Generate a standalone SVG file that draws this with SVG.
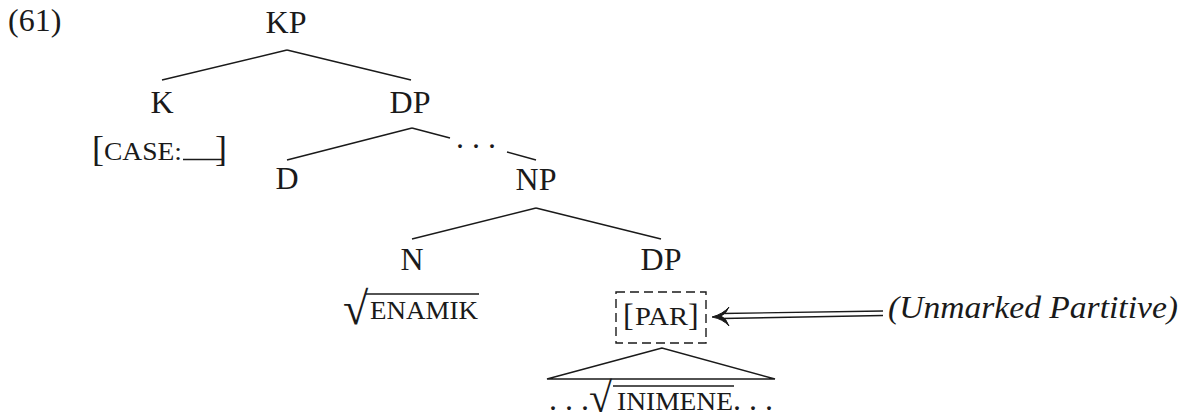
<svg xmlns="http://www.w3.org/2000/svg" width="1188" height="416" viewBox="0 0 1188 416">
<style>
  text { font-family: "Liberation Serif", "Times New Roman", serif; fill: #1a1a1a; }
  .lab { font-size: 32px; text-anchor: middle; }
  .sc { font-size: 25px; }
  .big { font-size: 36px; }
  .br { font-size: 32px; }
  .rad { font-size: 46px; }
  .it { font-size: 32px; font-style: italic; }
  .edge { stroke: #1a1a1a; stroke-width: 1.4; fill: none; }
  .dash { stroke: #1a1a1a; stroke-width: 1.4; fill: none; stroke-dasharray: 9 5; }
</style>
<rect width="1188" height="416" fill="#ffffff"/>

<text x="8" y="31" style="font-size:32px">(61)</text>

<g id="connectors">
  <line class="edge" x1="287" y1="50" x2="162" y2="80"/>
  <line class="edge" x1="287" y1="50" x2="411" y2="80"/>
  <line class="edge" x1="412" y1="128" x2="287" y2="160"/>
  <line class="edge" x1="412" y1="128" x2="450" y2="138"/>
  <line class="edge" x1="507" y1="152" x2="536" y2="160"/>
  <line class="edge" x1="536" y1="208" x2="412" y2="239"/>
  <line class="edge" x1="536" y1="208" x2="661" y2="239"/>
  <polygon class="edge" points="662,348 547,379 775,379"/>
  <line class="edge" x1="722" y1="313.5" x2="883" y2="311"/>
  <line class="edge" x1="722" y1="318.5" x2="883" y2="315.5"/>
  <path d="M729,307 Q723,314 712,317 Q723,319 729,326 Q726,318 721,316 Q726,314 729,307 Z" fill="#1a1a1a" stroke="#1a1a1a" stroke-width="1"/>
</g>
<text x="476" y="148" class="lab">. . .</text>

<g id="KP"><text x="286" y="33" class="lab">KP</text></g>
<g id="K"><text x="162" y="113" class="lab">K</text></g>
<g id="K-feature">
  <text x="92" y="161" class="big">[</text>
  <text x="104" y="160" class="sc" textLength="78" lengthAdjust="spacingAndGlyphs">CASE:</text>
  <line class="edge" x1="183" y1="159.5" x2="222" y2="159.5" stroke-width="2"/>
  <text x="215" y="161" class="big">]</text>
</g>
<g id="DP1"><text x="410" y="113" class="lab">DP</text></g>
<g id="D"><text x="287" y="189" class="lab">D</text></g>
<g id="NP"><text x="536" y="190" class="lab">NP</text></g>
<g id="N"><text x="412" y="270" class="lab">N</text></g>
<g id="N-root">
  <text x="343" y="324" class="rad">√</text>
  <line class="edge" x1="366" y1="294" x2="479" y2="294"/>
  <text x="370" y="319" class="sc" textLength="108" lengthAdjust="spacingAndGlyphs">ENAMIK</text>
</g>
<g id="DP2"><text x="661" y="270" class="lab">DP</text></g>
<g id="PAR">
  <rect class="dash" x="616" y="292" width="90" height="51"/>
  <text x="623" y="326" class="br">[</text>
  <text x="635" y="325" class="sc" textLength="53" lengthAdjust="spacingAndGlyphs">PAR</text>
  <text x="688" y="326" class="br">]</text>
</g>
<g id="INIMENE">
  <text x="549" y="410" style="font-size:32px">. . .</text>
  <text x="589" y="412" style="font-size:42px">√</text>
  <line class="edge" x1="613" y1="386" x2="734" y2="386"/>
  <text x="617" y="410" class="sc" textLength="116" lengthAdjust="spacingAndGlyphs">INIMENE</text>
  <text x="733" y="410" style="font-size:32px">. . .</text>
</g>
<g id="label-unmarked">
  <text x="888" y="318" class="it" textLength="290" lengthAdjust="spacingAndGlyphs">(Unmarked Partitive)</text>
</g>
</svg>
